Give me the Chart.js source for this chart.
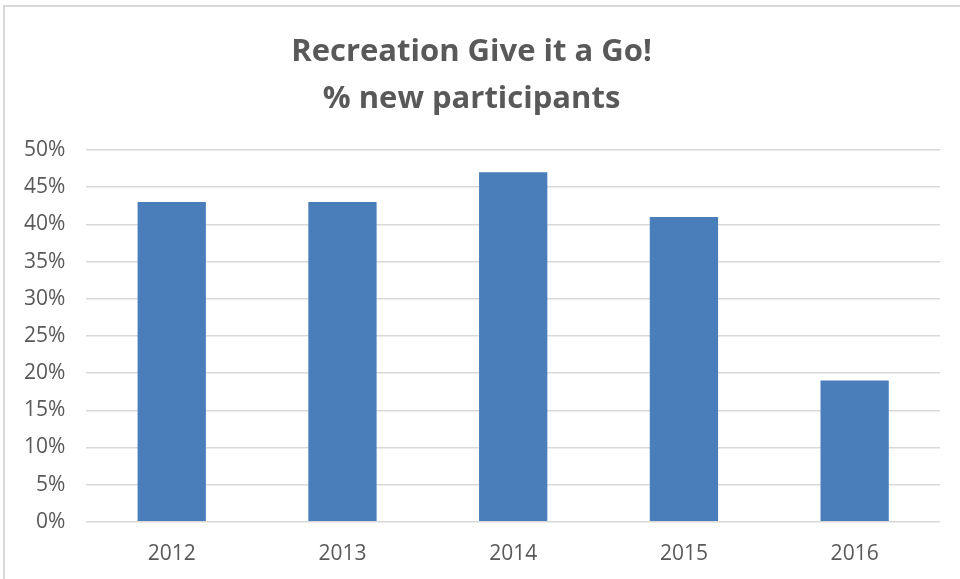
<!DOCTYPE html>
<html>
<head>
<meta charset="utf-8">
<script src="https://cdn.jsdelivr.net/npm/chart.js@4"></script>
<style>
    html, body { margin: 0; padding: 0; background: #fff; }
    #frame {
        position: absolute; left: 3px; top: 5px; width: 960px; height: 580px;
        border-left: 2px solid #d9d9d9; border-top: 2px solid #d9d9d9;
        box-sizing: border-box;
    }
    #wrap { position: absolute; left: 0; top: 0; width: 960px; height: 579px; }
</style>
</head>
<body>
<div id="frame"></div>
<div id="wrap"><canvas id="chart-bars"></canvas></div>
<script>
var years = ["2012", "2013", "2014", "2015", "2016"];
var newParticipants = [43, 43, 47, 41, 19];
var tickValues = [0, 5, 10, 15, 20, 25, 30, 35, 40, 45, 50];

var ctx = document.getElementById("chart-bars").getContext("2d");

new Chart(ctx, {
    type: "bar",
    data: {
        labels: years,
        datasets: [
            {
                label: "% new participants",
                backgroundColor: "#4a7ebb", // blue
                data: newParticipants,
                barPercentage: 0.4,
                categoryPercentage: 1.0
            }
        ]
    },
    options: {
        responsive: true,
        maintainAspectRatio: false,
        animation: false,
        layout: {
            padding: { left: 3, right: 20, top: 29, bottom: -8 }
        },
        plugins: {
            legend: { display: false },
            tooltip: { enabled: false },
            title: {
                display: true,
                text: ["Recreation Give it a Go!", "% new participants"],
                color: "#595959",
                font: { size: 31, family: "Open Sans", weight: "bold", lineHeight: 1.5 },
                padding: { top: 0, bottom: 28 }
            }
        },
        scales: {
            y: {
                min: 0,
                max: 50,
                afterBuildTicks: function (axis) {
                    axis.ticks = tickValues.map(function (v) { return { value: v }; });
                },
                border: { display: false },
                grid: {
                    color: "#d9d9d9",
                    lineWidth: 1.5,
                    drawTicks: false
                },
                ticks: {
                    padding: 21,
                    color: "#595959",
                    font: { size: 21, family: "Open Sans" },
                    callback: function (v) { return v + "%"; }
                }
            },
            x: {
                border: { display: false },
                grid: { display: false, drawTicks: false },
                ticks: {
                    padding: 20,
                    color: "#595959",
                    font: { size: 21, family: "Open Sans" }
                }
            }
        }
    }
});
</script>
</body>
</html>
